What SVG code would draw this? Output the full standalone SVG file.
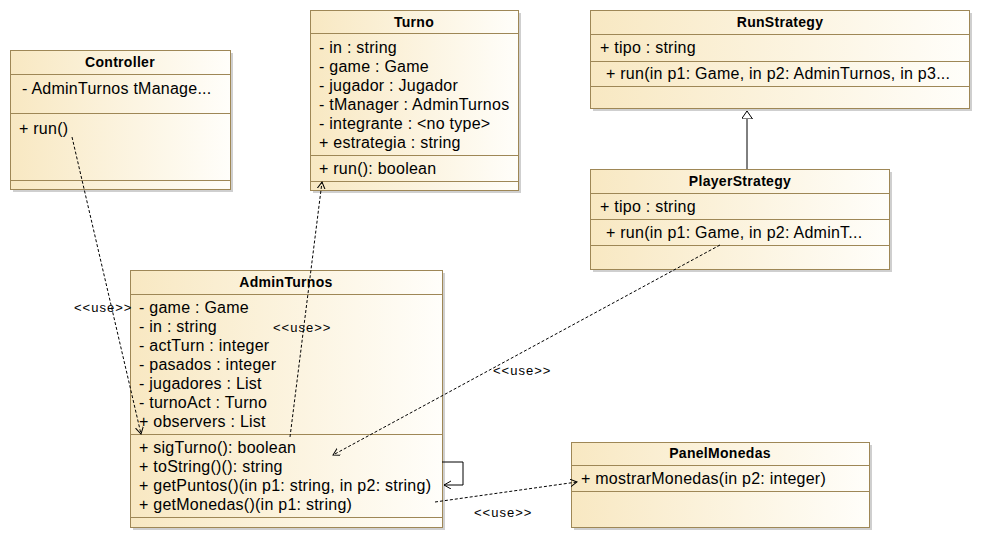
<svg xmlns="http://www.w3.org/2000/svg" width="981" height="543" viewBox="0 0 981 543">
<defs>
<linearGradient id="g" x1="0" y1="0" x2="1" y2="0">
<stop offset="0" stop-color="#F8E8C2"/>
<stop offset="1" stop-color="#FFFEFA"/>
</linearGradient>
<marker id="open" markerWidth="10" markerHeight="10" refX="7" refY="4" orient="auto" markerUnits="userSpaceOnUse">
<path d="M0,0 L7,4 L0,8" fill="none" stroke="#000" stroke-width="1" stroke-dasharray="none"/>
</marker>
<marker id="tri" markerWidth="14" markerHeight="14" refX="8" refY="5.5" orient="auto" markerUnits="userSpaceOnUse">
<path d="M0,0 L8,5.5 L0,11 Z" fill="#fff" stroke="#000" stroke-width="1"/>
</marker>
</defs>
<style>
.box{fill:url(#g);stroke:#9E8756;stroke-width:1}
.sh{fill:#CFCFCF}
.sep{stroke:#9E8756;stroke-width:1}
.t{font-family:"Liberation Sans",Arial,sans-serif;font-size:14px;font-weight:bold;letter-spacing:0.3px;fill:#000;text-anchor:middle}
.a{font-family:"Liberation Sans",Arial,sans-serif;font-size:16px;letter-spacing:0.25px;fill:#000}
.u{font-family:"Liberation Sans",Arial,sans-serif;font-size:13px;letter-spacing:1px;fill:#000}
.d{fill:none;stroke:#000;stroke-width:1;stroke-dasharray:3,2}
.s{fill:none;stroke:#000;stroke-width:1}
</style>
<rect width="981" height="543" fill="#fff"/>

<g id="Controller">
<rect class="sh" x="13" y="53" width="220" height="139"/>
<rect class="box" x="10.5" y="50.5" width="220" height="139"/>
<line class="sep" x1="10.5" y1="74.5" x2="230.5" y2="74.5"/>
<line class="sep" x1="10.5" y1="113.5" x2="230.5" y2="113.5"/>
<line class="sep" x1="10.5" y1="180.5" x2="230.5" y2="180.5"/>
<text class="t" x="120" y="67">Controller</text>
<text class="a" x="22" y="94">- AdminTurnos tManage...</text>
<text class="a" x="19" y="134">+ run()</text>
</g>

<g id="Turno">
<rect class="sh" x="313" y="13" width="208" height="180"/>
<rect class="box" x="310.5" y="10.5" width="208" height="180"/>
<line class="sep" x1="310.5" y1="33.5" x2="518.5" y2="33.5"/>
<line class="sep" x1="310.5" y1="155.5" x2="518.5" y2="155.5"/>
<line class="sep" x1="310.5" y1="181.5" x2="518.5" y2="181.5"/>
<text class="t" x="414" y="27">Turno</text>
<text class="a" x="319" y="53">- in : string</text>
<text class="a" x="319" y="72">- game : Game</text>
<text class="a" x="319" y="91">- jugador : Jugador</text>
<text class="a" x="319" y="110">- tManager : AdminTurnos</text>
<text class="a" x="319" y="129">- integrante : &lt;no type&gt;</text>
<text class="a" x="319" y="148">+ estrategia : string</text>
<text class="a" x="319" y="174">+ run(): boolean</text>
</g>

<g id="RunStrategy">
<rect class="sh" x="593" y="13" width="379" height="98"/>
<rect class="box" x="590.5" y="10.5" width="379" height="98"/>
<line class="sep" x1="590.5" y1="34.5" x2="969.5" y2="34.5"/>
<line class="sep" x1="590.5" y1="61.5" x2="969.5" y2="61.5"/>
<line class="sep" x1="590.5" y1="86.5" x2="969.5" y2="86.5"/>
<text class="t" x="780" y="27">RunStrategy</text>
<text class="a" x="600" y="53">+ tipo : string</text>
<text class="a" x="606" y="79">+ run(in p1: Game, in p2: AdminTurnos, in p3...</text>
</g>

<g id="PlayerStrategy">
<rect class="sh" x="593" y="172" width="299" height="100"/>
<rect class="box" x="590.5" y="169.5" width="299" height="100"/>
<line class="sep" x1="590.5" y1="193.5" x2="889.5" y2="193.5"/>
<line class="sep" x1="590.5" y1="219.5" x2="889.5" y2="219.5"/>
<line class="sep" x1="590.5" y1="245.5" x2="889.5" y2="245.5"/>
<text class="t" x="740" y="186">PlayerStrategy</text>
<text class="a" x="600" y="212">+ tipo : string</text>
<text class="a" x="606" y="238">+ run(in p1: Game, in p2: AdminT...</text>
</g>

<g id="AdminTurnos">
<rect class="sh" x="133" y="273" width="312" height="257"/>
<rect class="box" x="130.5" y="270.5" width="312" height="257"/>
<line class="sep" x1="130.5" y1="294.5" x2="442.5" y2="294.5"/>
<line class="sep" x1="130.5" y1="434.5" x2="442.5" y2="434.5"/>
<line class="sep" x1="130.5" y1="517.5" x2="442.5" y2="517.5"/>
<text class="t" x="286" y="287">AdminTurnos</text>
<text class="a" x="139" y="313">- game : Game</text>
<text class="a" x="139" y="332">- in : string</text>
<text class="a" x="139" y="351">- actTurn : integer</text>
<text class="a" x="139" y="370">- pasados : integer</text>
<text class="a" x="139" y="389">- jugadores : List</text>
<text class="a" x="139" y="408">- turnoAct : Turno</text>
<text class="a" x="139" y="427">+ observers : List</text>
<text class="a" x="139" y="453">+ sigTurno(): boolean</text>
<text class="a" x="139" y="472">+ toString()(): string</text>
<text class="a" x="139" y="491">+ getPuntos()(in p1: string, in p2: string)</text>
<text class="a" x="139" y="510">+ getMonedas()(in p1: string)</text>
</g>

<g id="PanelMonedas">
<rect class="sh" x="574" y="445" width="298" height="85"/>
<rect class="box" x="571.5" y="442.5" width="298" height="85"/>
<line class="sep" x1="571.5" y1="465.5" x2="869.5" y2="465.5"/>
<line class="sep" x1="571.5" y1="491.5" x2="869.5" y2="491.5"/>
<text class="t" x="720" y="458">PanelMonedas</text>
<text class="a" x="581" y="484">+ mostrarMonedas(in p2: integer)</text>
</g>

<g id="connectors">
<line class="d" x1="72" y1="137" x2="141" y2="434" marker-end="url(#open)"/>
<line class="d" x1="290" y1="437" x2="322" y2="182" marker-end="url(#open)"/>
<line class="d" x1="720" y1="245" x2="333" y2="455" marker-end="url(#open)"/>
<line class="d" x1="435" y1="502" x2="577" y2="482" marker-end="url(#open)"/>
<path class="s" d="M442,462 H463 V485 H444" marker-end="url(#open)"/>
<line class="s" x1="747" y1="169" x2="747" y2="111" marker-end="url(#tri)"/>
<text class="u" x="74" y="312">&lt;&lt;use&gt;&gt;</text>
<text class="u" x="273" y="332">&lt;&lt;use&gt;&gt;</text>
<text class="u" x="493" y="375">&lt;&lt;use&gt;&gt;</text>
<text class="u" x="474" y="517">&lt;&lt;use&gt;&gt;</text>
</g>
</svg>
